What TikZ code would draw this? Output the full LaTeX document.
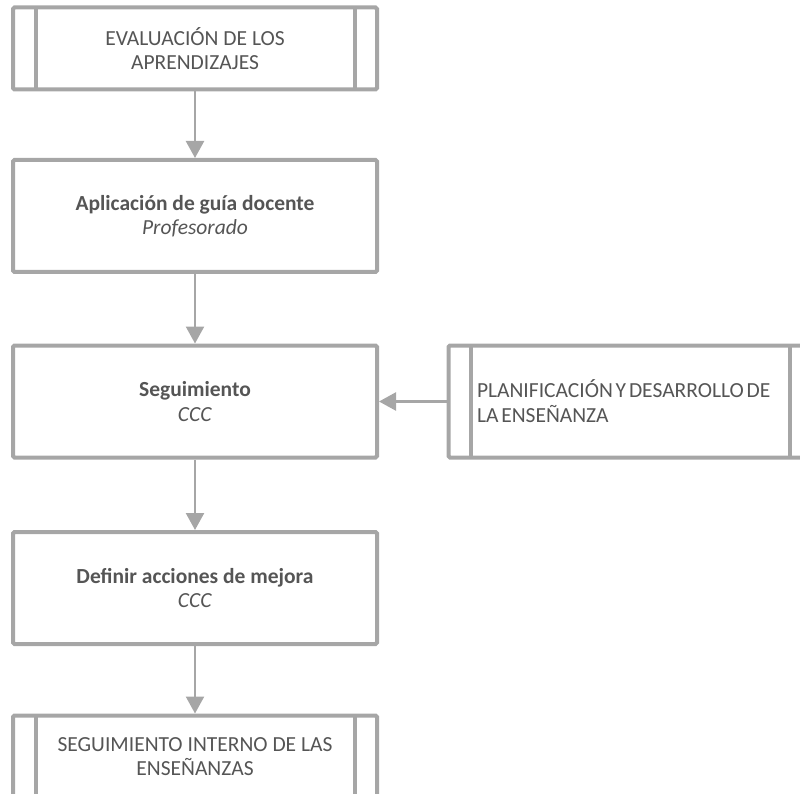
\documentclass[tikz,border=0pt]{standalone}
\usepackage{fontspec}
\setmainfont{Carlito}
\usetikzlibrary{arrows.meta}
\definecolor{boxgray}{HTML}{A6A6A6}
\definecolor{txtgray}{HTML}{555555}

\begin{document}
\begin{tikzpicture}[x=1pt,y=-1pt,
  every node/.style={font=\fontsize{21.5}{24.5}\selectfont, text=txtgray},
  taskbox/.style={draw=boxgray, line width=4pt, rounded corners=1.5pt,
    minimum width=364pt, minimum height=112pt, inner sep=0pt, align=center},
  subbox/.style={taskbox, path picture={
    \draw[boxgray, line width=4pt]
      ([xshift=22.5pt]path picture bounding box.north west) -- ([xshift=22.5pt]path picture bounding box.south west)
      ([xshift=-22.5pt]path picture bounding box.north east) -- ([xshift=-22.5pt]path picture bounding box.south east);}},
  flow/.style={draw=boxgray, line width=2.4pt, -{Triangle[length=17pt,width=18pt]}}]
\clip (0,0) rectangle (800,794);

% main flow
\node[subbox, minimum height=82pt] (evaluacion) at (195,48.5) {EVALUACIÓN DE LOS\\APRENDIZAJES};
\node[taskbox] (guia) at (195,216) {\textbf{Aplicación de guía docente}\\\textit{Profesorado}};
\node[taskbox] (seguim) at (195,401.5) {\textbf{Seguimiento}\\\textit{CCC}};
\node[taskbox] (mejora) at (195,588) {\textbf{Definir acciones de mejora}\\\textit{CCC}};
\node[subbox, minimum height=82pt] (interno) at (195,756.5) {SEGUIMIENTO INTERNO DE LAS\\ENSEÑANZAS};

% input process
\node[subbox, text width=307pt, inner xsep=28pt, align=left,
  font=\fontsize{21.5}{25}\selectfont] (planif) at (630.5,401.5)
  {\spaceskip=2.8pt\relax PLANIFICACIÓN Y DESARROLLO DE\\LA ENSEÑANZA};

\draw[flow] (evaluacion) -- (guia);
\draw[flow] (guia) -- (seguim);
\draw[flow] (seguim) -- (mejora);
\draw[flow] (mejora) -- (interno);
\draw[flow] (planif) -- (seguim);
\end{tikzpicture}
\end{document}
